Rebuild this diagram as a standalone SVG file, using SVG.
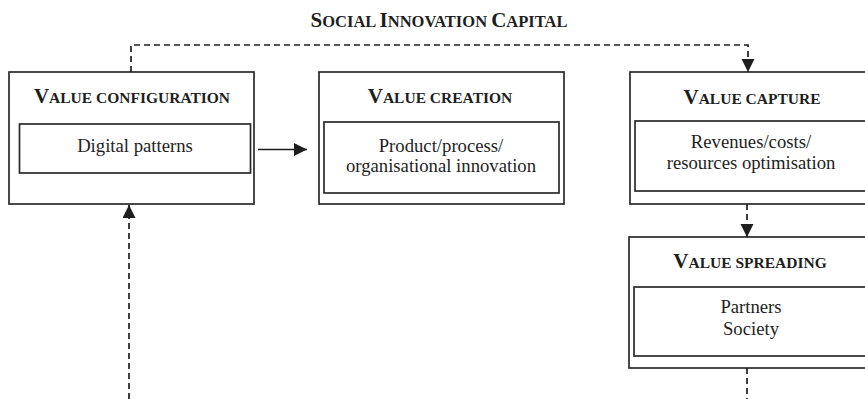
<svg xmlns="http://www.w3.org/2000/svg" width="865" height="399" viewBox="0 0 865 399">
  <style>
    .box { fill: #ffffff; stroke: #2a2a2a; stroke-width: 1.7; }
    .inner { fill: none; stroke: #2a2a2a; stroke-width: 1.7; }
    .hd { font-family: "Liberation Serif", "Times New Roman", serif; font-weight: bold; fill: #1e1e1e; text-anchor: middle; }
    .cap { font-size: 21px; }
    .sc { font-size: 15.5px; }
    .tsc { font-size: 16.5px; }
    .tx { font-family: "Liberation Serif", "Times New Roman", serif; font-size: 18.7px; fill: #1e1e1e; text-anchor: middle; }
    .solid { fill: none; stroke: #1e1e1e; stroke-width: 1.7; }
    .dash { fill: none; stroke: #1e1e1e; stroke-width: 1.7; stroke-dasharray: 6 4; }
  </style>
  <defs>
    <marker id="head" markerUnits="userSpaceOnUse" markerWidth="14" markerHeight="14" refX="13" refY="6.5" orient="auto">
      <path d="M0,0 L13,6.5 L0,13 Z" fill="#1e1e1e"/>
    </marker>
  </defs>

  <rect width="865" height="399" fill="#ffffff"/>

  <!-- title -->
  <text id="title" class="hd" x="439" y="27"><tspan class="cap">S</tspan><tspan class="tsc">OCIAL </tspan><tspan class="cap">I</tspan><tspan class="tsc">NNOVATION </tspan><tspan class="cap">C</tspan><tspan class="tsc">APITAL</tspan></text>

  <!-- value configuration -->
  <g id="value-configuration">
    <rect class="box" x="9" y="72" width="245" height="132"/>
    <text class="hd" x="132" y="103"><tspan class="cap">V</tspan><tspan class="sc">ALUE CONFIGURATION</tspan></text>
    <rect class="inner" x="19.5" y="124" width="231" height="49"/>
    <text class="tx" x="135" y="152">Digital patterns</text>
  </g>

  <!-- value creation -->
  <g id="value-creation">
    <rect class="box" x="319" y="72" width="245" height="132"/>
    <text class="hd" x="440" y="103"><tspan class="cap">V</tspan><tspan class="sc">ALUE CREATION</tspan></text>
    <rect class="inner" x="324" y="122" width="235" height="71"/>
    <text class="tx" x="441" y="152">Product/process/</text>
    <text class="tx" x="441" y="172">organisational innovation</text>
  </g>

  <!-- value capture -->
  <g id="value-capture">
    <rect class="box" x="630" y="72" width="250" height="132"/>
    <text class="hd" x="752" y="104"><tspan class="cap">V</tspan><tspan class="sc">ALUE CAPTURE</tspan></text>
    <rect class="inner" x="635" y="121" width="245" height="70"/>
    <text class="tx" x="751" y="148">Revenues/costs/</text>
    <text class="tx" x="751" y="169">resources optimisation</text>
  </g>

  <!-- value spreading -->
  <g id="value-spreading">
    <rect class="box" x="629" y="237" width="251" height="131"/>
    <text class="hd" x="750" y="268"><tspan class="cap">V</tspan><tspan class="sc">ALUE SPREADING</tspan></text>
    <rect class="inner" x="634" y="287" width="246" height="69"/>
    <text class="tx" x="751" y="313">Partners</text>
    <text class="tx" x="751" y="335">Society</text>
  </g>

  <!-- connectors -->
  <g id="connectors">
    <path class="dash" d="M131,72 V45 H748 V72" marker-end="url(#head)"/>
    <path class="solid" d="M258,149.5 H307" marker-end="url(#head)"/>
    <path class="dash" d="M747,204 V237" marker-end="url(#head)"/>
    <path class="dash" d="M747,368 V399"/>
    <path class="dash" d="M129,399 V205" marker-end="url(#head)"/>
  </g>
</svg>
